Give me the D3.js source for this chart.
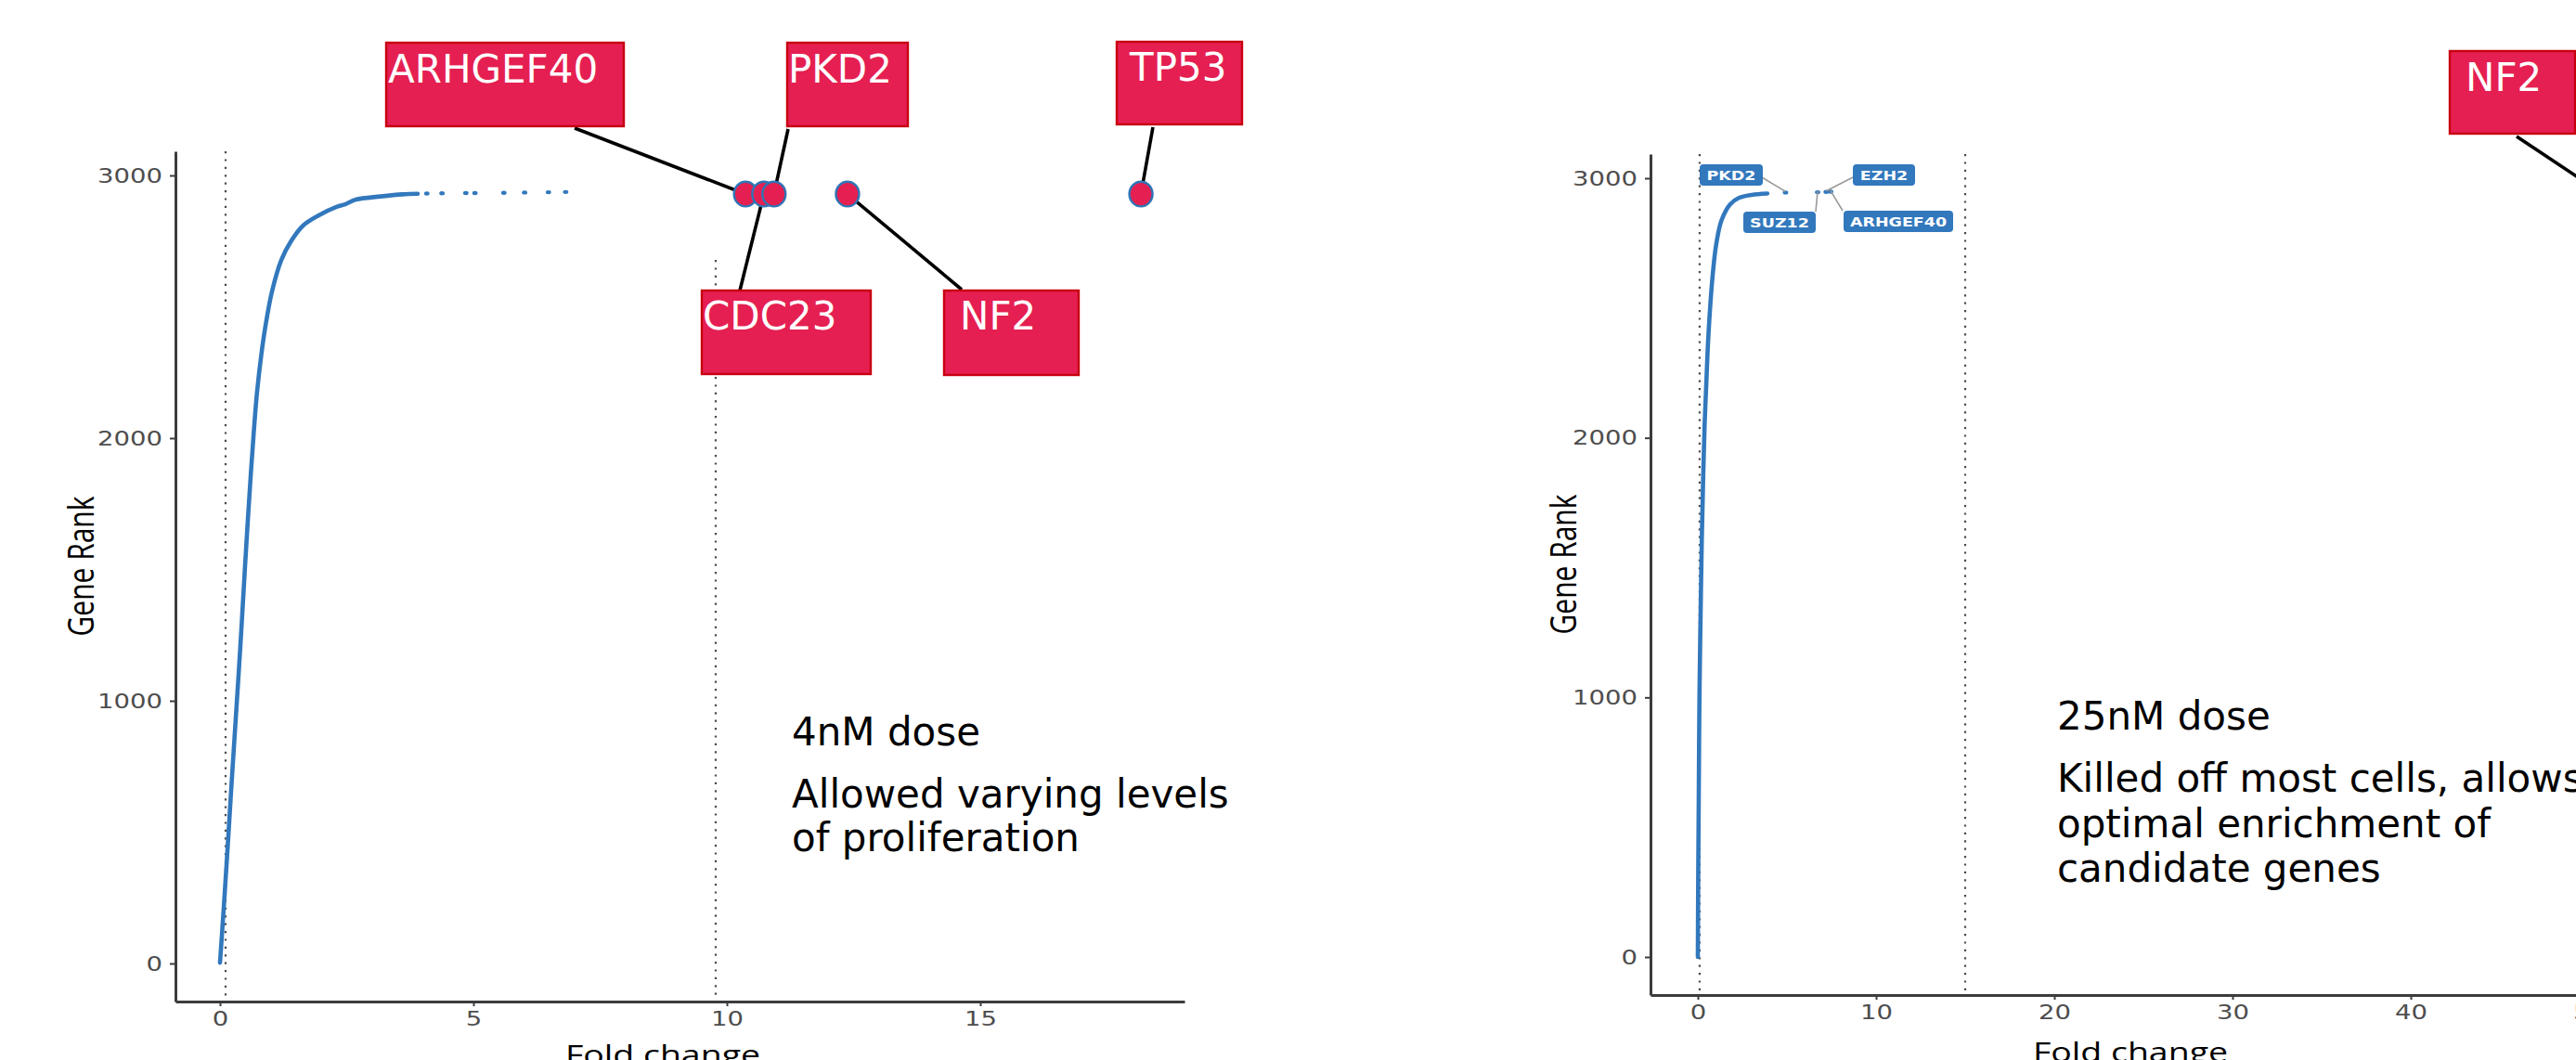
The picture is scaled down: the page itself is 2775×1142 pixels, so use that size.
<!DOCTYPE html>
<html><head><meta charset="utf-8">
<script src="https://cdn.jsdelivr.net/npm/d3@7"></script>
<style>html,body{margin:0;padding:0;background:#fff;overflow:hidden}</style>
</head><body>
<svg id="chart" width="2775" height="1142" xmlns="http://www.w3.org/2000/svg"></svg>
<script>
// ---------------- DATA ----------------
const yTickValues = [0, 1000, 2000, 3000];
const leftXTickValues = [0, 5, 10, 15];
const rightXTickValues = [0, 10, 20, 30, 40, 50];

// 4nM screen: [fold change, gene rank]
const leftCurveFold = [0.00,0.07,0.15,0.23,0.30,0.37,0.43,0.49,0.55,0.61,0.67,0.73,0.82,0.91,1.03,1.21,1.40,1.64,1.95,2.31,2.47,2.68,3.17,3.60,3.90];
const leftCurveRank = [3,200,440,690,900,1110,1300,1500,1690,1870,2032,2173,2325,2442,2562,2678,2749,2809,2848,2881,2890,2908,2920,2928,2930];
const leftTailFold = [4.08,4.38,4.85,5.03,5.60,6.01,6.48,6.82];
const leftTailRank = [2931,2932,2933,2933,2934,2935,2936,2937];
const leftHitGenes = ["ARHGEF40","CDC23","PKD2","NF2","TP53"];
const leftHitFold = [10.37,10.73,10.93,12.38,18.17];
const leftHitRank = [2929,2929,2929,2929,2929];
const leftCutoffs = [0.11, 9.78];

// 25nM screen
const rightCurveFold = [0.00,0.02,0.05,0.09,0.15,0.22,0.30,0.38,0.47,0.59,0.83,1.03,1.33,1.82,2.32,3.02,3.90];
const rightCurveRank = [0,300,600,1000,1300,1600,1850,2050,2200,2390,2625,2745,2838,2900,2925,2936,2941];
const rightLabelGenes = ["PKD2","SUZ12","EZH2","ARHGEF40"];
const rightLabelFold = [4.92,6.72,7.20,7.45];
const rightLabelRank = [2945,2946,2947,2948];
const rightHitGenes = ["NF2"];
const rightHitFold = [50.6];
const rightHitRank = [2948];
const rightCutoffs = [0.10, 15.0];

const leftNote = ["4nM dose", "Allowed varying levels", "of proliferation"];
const rightNote = ["25nM dose", "Killed off most cells, allows", "optimal enrichment of", "candidate genes"];

// ---------------- LAYOUT / STYLE ----------------
const STRETCH = 1.25;
const BLUE = "#3278bd";
const RED = "#e51f51";
const RED_EDGE = "#c8000f";

const panels = {
  left: {
    xPix: [189, 1276], yPix: [1079, 163],
    xAt: [[0, 237], [5, 510]], yAt: [[0, 1038], [3000, 189]],
    xTicks: leftXTickValues, cutoffTop: [163, 280],
    fold: leftCurveFold, rank: leftCurveRank, cutoffs: leftCutoffs,
    xTitle: 714, yTitle: 101, titleY: 1146.5
  },
  right: {
    xPix: [1778, 2902], yPix: [1072, 166],
    xAt: [[0, 1829], [10, 2021]], yAt: [[0, 1031], [3000, 192]],
    xTicks: rightXTickValues, cutoffTop: [166, 166],
    fold: rightCurveFold, rank: rightCurveRank, cutoffs: rightCutoffs,
    xTitle: 2295, yTitle: 1698, titleY: 1143.5
  }
};

const leftBoxes = {
  ARHGEF40: {box: [416, 46, 256, 90], text: [418, 89], anchor: [619, 138]},
  PKD2:     {box: [848, 46, 130, 90], text: [849, 89], anchor: [849, 139]},
  TP53:     {box: [1203, 45, 135, 89], text: [1217, 87], anchor: [1242, 137]},
  CDC23:    {box: [756, 313, 182, 90], text: [757, 355], anchor: [797, 313]},
  NF2:      {box: [1017, 313, 145, 91], text: [1034, 355], anchor: [1036, 312]}
};
const rightBoxes = {
  NF2: {box: [2639, 55, 135, 89], text: [2656, 98], anchor: [2711, 147]}
};
const rightTags = {
  PKD2:     {box: [1831, 177, 68, 23], anchor: [1898, 191]},
  SUZ12:    {box: [1878, 228, 78, 23], anchor: [1956, 228]},
  EZH2:     {box: [1996, 177, 67, 23], anchor: [1996, 191]},
  ARHGEF40: {box: [1986, 227, 118, 23], anchor: [1985, 227]}
};

// ---------------- DRAW ----------------
const svg = d3.select("#chart");
svg.append("rect").attr("width", 2775).attr("height", 1142).attr("fill", "#fff");

function linearFromPoints(p, pixRange) {
  const k = (p[1][1] - p[0][1]) / (p[1][0] - p[0][0]);
  const d0 = p[0][0] + (pixRange[0] - p[0][1]) / k;
  const d1 = p[0][0] + (pixRange[1] - p[0][1]) / k;
  return d3.scaleLinear().domain([d0, d1]).range(pixRange);
}

function drawPanel(P) {
  const x = linearFromPoints(P.xAt, P.xPix);
  const y = linearFromPoints(P.yAt, P.yPix);
  const g = svg.append("g");

  P.cutoffs.forEach((c, i) => {
    g.append("line")
      .attr("x1", x(c)).attr("x2", x(c))
      .attr("y1", P.cutoffTop[i]).attr("y2", P.yPix[0])
      .attr("stroke", "#4a4a4a").attr("stroke-width", 2.2)
      .attr("stroke-dasharray", "2.2,6.2");
  });

  const ax = g.append("g").attr("transform", `translate(0,${P.yPix[0]})`)
    .call(d3.axisBottom(x).tickValues(P.xTicks).tickSize(5).tickSizeOuter(0).tickFormat(d3.format("d")));
  const ay = g.append("g").attr("transform", `translate(${P.xPix[0]},0)`)
    .call(d3.axisLeft(y).tickValues(yTickValues).tickSize(6).tickSizeOuter(0).tickFormat(d3.format("d")));
  [ax, ay].forEach(a => {
    a.select(".domain").attr("stroke", "#3c3c3c").attr("stroke-width", 3);
    a.selectAll(".tick line").attr("stroke", "#3c3c3c").attr("stroke-width", 2);
    a.selectAll(".tick text").attr("fill", "#4d4d4d")
      .attr("font-family", "DejaVu Sans").attr("font-size", 22);
  });
  ax.selectAll(".tick text").attr("y", 26).attr("dy", 0)
    .attr("transform", `scale(${STRETCH},1)`);
  ay.selectAll(".tick text").attr("x", -11.2)
    .attr("transform", `scale(${STRETCH},1)`);

  g.append("text").text("Fold change")
    .attr("transform", `translate(${P.xTitle},${P.titleY}) scale(${STRETCH},1)`)
    .attr("text-anchor", "middle").attr("font-family", "Open Sans")
    .attr("font-size", 30).attr("fill", "#000");
  g.append("text").text("Gene Rank")
    .attr("transform", `translate(${P.yTitle},${(P.yPix[0] + P.yPix[1]) / 2 - 11}) scale(${STRETCH},1) rotate(-90)`)
    .attr("text-anchor", "middle").attr("font-family", "Open Sans")
    .attr("font-size", 30).attr("fill", "#000");

  const pts = P.fold.map((f, i) => [f, P.rank[i]]);
  const line = d3.line().x(d => x(d[0])).y(d => y(d[1])).curve(d3.curveCatmullRom.alpha(0.5));
  g.append("path").attr("d", line(pts)).attr("fill", "none")
    .attr("stroke", BLUE).attr("stroke-width", 4.6)
    .attr("stroke-linecap", "round").attr("stroke-linejoin", "round");
  return {x, y, g};
}

const L = drawPanel(panels.left);
const R = drawPanel(panels.right);

L.g.selectAll(".tail").data(leftTailFold.map((f, i) => [f, leftTailRank[i]])).enter()
  .append("ellipse").attr("cx", d => L.x(d[0])).attr("cy", d => L.y(d[1]))
  .attr("rx", 2.9).attr("ry", 2.2).attr("fill", BLUE);

const rPts = rightLabelGenes.map((g, i) => ({gene: g, f: rightLabelFold[i], r: rightLabelRank[i]}));
R.g.selectAll(".lab").data(rPts).enter()
  .append("ellipse").attr("cx", d => R.x(d.f)).attr("cy", d => R.y(d.r))
  .attr("rx", 2.9).attr("ry", 2.2).attr("fill", BLUE);

rPts.forEach(d => {
  const t = rightTags[d.gene];
  R.g.append("line").attr("x1", t.anchor[0]).attr("y1", t.anchor[1])
    .attr("x2", R.x(d.f)).attr("y2", R.y(d.r) - 1)
    .attr("stroke", "#9a9a9a").attr("stroke-width", 1.6);
  R.g.append("rect").attr("x", t.box[0]).attr("y", t.box[1])
    .attr("width", t.box[2]).attr("height", t.box[3]).attr("rx", 4)
    .attr("fill", BLUE);
  R.g.append("text").text(d.gene)
    .attr("transform", `translate(${t.box[0] + t.box[2] / 2},${t.box[1] + 17}) scale(${STRETCH},1)`)
    .attr("text-anchor", "middle").attr("font-family", "DejaVu Sans")
    .attr("font-weight", "bold").attr("font-size", 14).attr("fill", "#fff");
});

function redAnnot(panel, genes, folds, ranks, layout) {
  const ov = svg.append("g");
  genes.forEach((gname, i) => {
    const cx = panel.x(folds[i]), cy = panel.y(ranks[i]);
    const lay = layout[gname];
    const dx = cx - lay.anchor[0], dy = cy - lay.anchor[1];
    const len = Math.hypot(dx, dy);
    ov.append("line").attr("x1", lay.anchor[0]).attr("y1", lay.anchor[1])
      .attr("x2", cx - dx / len * 12).attr("y2", cy - dy / len * 12)
      .attr("stroke", "#000").attr("stroke-width", 3.6);
  });
  genes.forEach((gname, i) => {
    ov.append("ellipse").attr("cx", panel.x(folds[i])).attr("cy", panel.y(ranks[i]))
      .attr("rx", 12.5).attr("ry", 13.3)
      .attr("fill", RED).attr("stroke", "#2e75b6").attr("stroke-width", 2.4);
  });
  genes.forEach(gname => {
    const lay = layout[gname];
    ov.append("rect").attr("x", lay.box[0]).attr("y", lay.box[1])
      .attr("width", lay.box[2]).attr("height", lay.box[3])
      .attr("fill", RED).attr("stroke", RED_EDGE).attr("stroke-width", 2.4);
    ov.append("text").text(gname).attr("x", lay.text[0]).attr("y", lay.text[1])
      .attr("font-family", "DejaVu Sans").attr("font-size", 42).attr("fill", "#fff");
  });
}
redAnnot(L, leftHitGenes, leftHitFold, leftHitRank, leftBoxes);
redAnnot(R, rightHitGenes, rightHitFold, rightHitRank, rightBoxes);

function note(lines, x, ys) {
  lines.forEach((t, i) => {
    svg.append("text").text(t).attr("x", x).attr("y", ys[i])
      .attr("font-family", "DejaVu Sans").attr("font-size", 42).attr("fill", "#000");
  });
}
note(leftNote, 853, [803, 870, 917]);
note(rightNote, 2216, [786, 853, 902, 950]);
</script>
</body></html>
